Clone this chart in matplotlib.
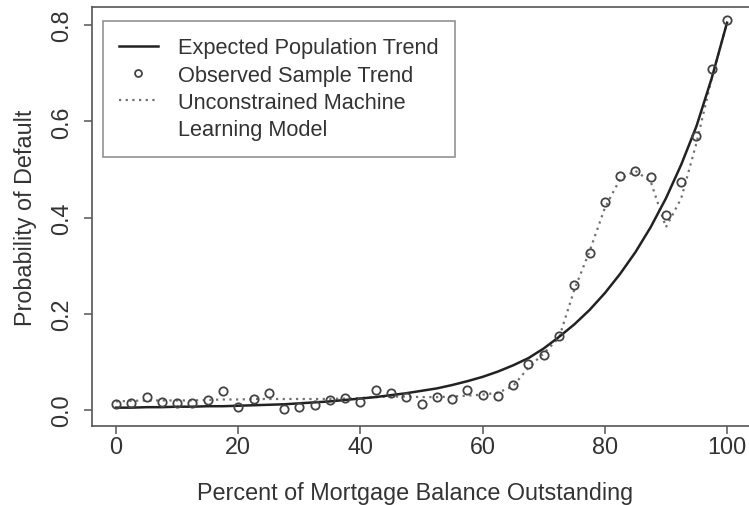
import matplotlib
matplotlib.use("Agg")
from matplotlib import pyplot as plt
from matplotlib.lines import Line2D

# percent of mortgage balance outstanding
balance = [0, 2.5, 5, 7.5, 10, 12.5, 15, 17.5, 20, 22.5,
           25, 27.5, 30, 32.5, 35, 37.5, 40, 42.5, 45, 47.5,
           50, 52.5, 55, 57.5, 60, 62.5, 65, 67.5, 70, 72.5,
           75, 77.5, 80, 82.5, 85, 87.5, 90, 92.5, 95, 97.5, 100]

# expected population trend
expected = [0.005, 0.005, 0.006, 0.006, 0.007, 0.007, 0.008, 0.008, 0.009, 0.010,
            0.011, 0.012, 0.014, 0.016, 0.018, 0.021, 0.024, 0.027, 0.031, 0.035,
            0.040, 0.045, 0.052, 0.060, 0.069, 0.080, 0.093, 0.108, 0.128, 0.152,
            0.178, 0.208, 0.243, 0.283, 0.328, 0.380, 0.440, 0.510, 0.590, 0.690, 0.805]

# observed sample trend
observed = [0.012, 0.015, 0.027, 0.017, 0.015, 0.014, 0.020, 0.040, 0.006, 0.024,
            0.036, 0.003, 0.006, 0.010, 0.020, 0.025, 0.017, 0.042, 0.035, 0.028,
            0.012, 0.027, 0.024, 0.042, 0.032, 0.030, 0.053, 0.096, 0.115, 0.153,
            0.260, 0.327, 0.432, 0.487, 0.497, 0.484, 0.405, 0.474, 0.569, 0.709, 0.810]

# unconstrained machine learning model
ml_model = [0.018, 0.019, 0.020, 0.020, 0.020, 0.020, 0.021, 0.022, 0.022, 0.023,
            0.023, 0.023, 0.023, 0.023, 0.023, 0.024, 0.025, 0.027, 0.028, 0.028,
            0.027, 0.027, 0.028, 0.030, 0.032, 0.036, 0.050, 0.088, 0.118, 0.150,
            0.250, 0.330, 0.420, 0.480, 0.497, 0.475, 0.380, 0.440, 0.555, 0.690, 0.805]

x_ticks = [0, 20, 40, 60, 80, 100]
y_ticks = [0.0, 0.2, 0.4, 0.6, 0.8]
y_tick_labels = ["0.0", "0.2", "0.4", "0.6", "0.8"]

plt.rcParams['font.family'] = ['Liberation Sans', 'DejaVu Sans']
txt = "#333333"
fs = 16.8

fig = plt.figure(figsize=(7.49, 5.06), dpi=100)
ax = fig.add_axes([0.1223, 0.157, 0.881, 0.827])

ax.plot(balance, ml_model, linestyle=(0, (1, 2.0)), color="#707070", linewidth=1.6)
ax.plot(balance, expected, color="#222222", linewidth=1.8)
ax.plot(balance, observed, linestyle="none", marker="o", markersize=6,
        markerfacecolor="none", markeredgecolor="#444444", markeredgewidth=1.3)

ax.set_xlim(-4, 104)
ax.set_ylim(-0.0322, 0.8374)
ax.set_xticks(x_ticks)
ax.set_yticks(y_ticks)
ax.set_yticklabels(y_tick_labels, rotation=90, va="center")

for s in ax.spines.values():
    s.set_color("#555555")
    s.set_linewidth(1.2)
ax.tick_params(axis="both", direction="out", length=5.5, width=1.1, color="#555555",
               labelsize=fs, labelcolor=txt)
ax.tick_params(axis="x", pad=1.5)
ax.tick_params(axis="y", pad=8)

ax.set_xlabel("Percent of Mortgage Balance Outstanding", fontsize=fs, color=txt)
ax.set_ylabel("Probability of Default", fontsize=fs, color=txt)
ax.xaxis.set_label_coords(0.49, -0.133)
ax.yaxis.set_label_coords(-0.083, 0.5)

handles = [
    Line2D([], [], color="#222222", linewidth=1.8),
    Line2D([], [], linestyle="none", marker="o", markersize=5,
           markerfacecolor="none", markeredgecolor="#444444", markeredgewidth=1.3),
    Line2D([], [], linestyle=(0, (1, 2.0)), color="#707070", linewidth=1.6),
    Line2D([], [], linestyle="none"),
]
labels = ["Expected Population Trend", "Observed Sample Trend",
          "Unconstrained Machine", "Learning Model"]
leg = ax.legend(handles, labels, loc="upper left", bbox_to_anchor=(0.0173, 0.967),
                borderaxespad=0, prop={"size": 15.7}, labelcolor=txt, frameon=True,
                fancybox=False, handlelength=1.75, handletextpad=0.95,
                borderpad=0.75, labelspacing=0.29)
leg.get_frame().set_edgecolor("#777777")
leg.get_frame().set_linewidth(1.2)

fig.savefig("out.png", dpi=100)
